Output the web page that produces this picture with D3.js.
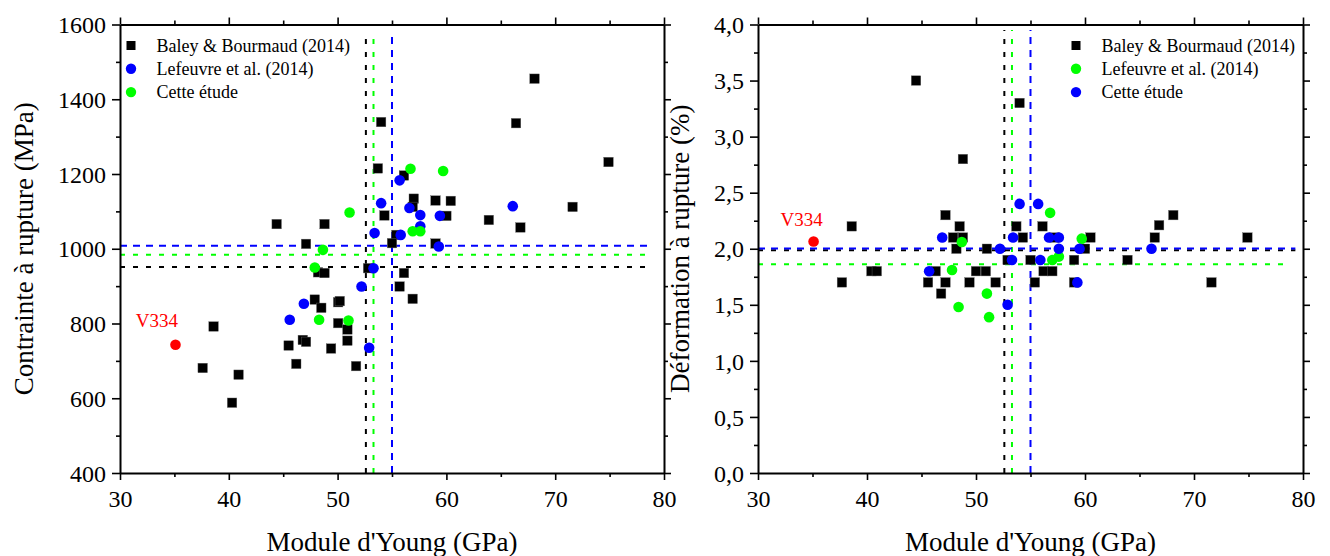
<!DOCTYPE html>
<html><head><meta charset="utf-8">
<script src="https://cdn.jsdelivr.net/npm/d3@7"></script>
<style>
body{margin:0;background:#fff}
text{font-family:"Liberation Serif","Times New Roman",serif;fill:#000}
</style>
</head><body>
<svg id="c" width="1330" height="556"></svg>
<script>
// ---------- data: left panel (Contrainte à rupture, MPa) ----------
const stressBaley = [
  [68.1,1455],[66.4,1336],[74.9,1232],[71.6,1112],[63.9,1077],[66.8,1057],
  [54.0,1339],[53.7,1215],[56.1,1196],[57.0,1134],[56.9,1112],[59.0,1129],[60.4,1128],[60.0,1088],
  [54.3,1089],[55.4,1037],[55.0,1015],[59.0,1014],
  [44.4,1066],[48.8,1066],[47.1,1013],
  [48.2,937],[48.8,935],[52.8,948],[56.1,935],[55.7,899],[56.9,866],
  [47.9,864],[48.5,842],[50.05,857],[50.2,860],[50.05,801],[50.9,784],[50.9,754],
  [46.8,756],[47.1,751],[45.5,741],[49.4,733],[51.7,686],[46.2,692],
  [38.6,792],[37.6,681],[40.9,663],[40.3,588]
];
const stressLefeuvre = [
  [54.0,1122],[55.7,1183],[56.6,1109],[57.6,1090],[57.6,1060],[59.4,1088],[55.8,1037],
  [53.4,1042],[59.3,1006],[66.1,1114],[53.3,948],[52.2,899],[46.9,853],[45.6,810],[52.9,735]
];
const stressEtude = [
  [51.1,1097],[56.7,1214],[59.7,1208],[56.9,1047],[57.6,1047],[48.65,997],[47.9,950],[48.3,810],[51.0,808]
];
const stressV334 = [[35.1,743]];
const stressMeanX = {black:52.6, green:53.3, blue:55.0};
const stressMeanY = {black:951, green:984, blue:1008};

// ---------- data: right panel (Déformation à rupture, %) ----------
const strainBaley = [
  [44.5,3.50],[54.0,3.30],[48.8,2.80],[47.2,2.30],[38.6,2.20],[48.5,2.20],[53.7,2.20],[56.1,2.20],
  [47.9,2.10],[48.8,2.10],[54.3,2.10],[57.2,2.10],[60.5,2.10],[66.4,2.10],[74.9,2.10],[66.8,2.21],[68.1,2.30],
  [51.0,2.00],[48.2,2.00],[60.0,2.00],
  [52.9,1.90],[55.0,1.90],[59.0,1.90],[63.9,1.90],
  [40.4,1.80],[40.9,1.80],[46.3,1.80],[50.0,1.80],[50.9,1.80],[56.2,1.80],[57.0,1.80],
  [37.7,1.70],[45.6,1.70],[47.2,1.70],[49.4,1.70],[51.8,1.70],[55.4,1.70],[59.0,1.70],[71.6,1.70],
  [46.8,1.60]
];
const strainLefeuvre = [ // drawn green in this panel
  [56.8,2.32],[48.7,2.06],[59.7,2.09],[57.0,1.90],[57.6,1.93],[47.8,1.81],[51.0,1.60],[48.4,1.48],[51.2,1.39]
];
const strainEtude = [ // drawn blue in this panel
  [54.0,2.40],[55.7,2.40],[46.9,2.10],[53.4,2.10],[56.7,2.10],[57.6,2.10],[52.2,2.00],[57.6,2.00],
  [59.5,2.00],[66.1,2.00],[53.3,1.90],[55.9,1.90],[45.7,1.80],[59.3,1.70],[52.9,1.50]
];
const strainV334 = [[35.1,2.065]];
const strainMeanX = {black:52.6, green:53.3, blue:55.0};
const strainMeanY = {black:1.987, green:1.862, blue:2.003};

// ---------- axes ----------
const xDomain = [30,80];
const xMajorTicks = [30,40,50,60,70,80];
const xMinorTicks = [35,45,55,65,75];
const stressDomain = [400,1600];
const stressMajorTicks = [400,600,800,1000,1200,1400,1600];
const stressMinorTicks = [500,700,900,1100,1300,1500];
const strainDomain = [0,4];
const strainMajorTicks = [0,0.5,1,1.5,2,2.5,3,3.5,4];
const strainMinorTicks = [0.25,0.75,1.25,1.75,2.25,2.75,3.25,3.75];
const xTitle = "Module d'Young (GPa)";
const stressTitle = "Contrainte à rupture (MPa)";
const strainTitle = "Déformation à rupture (%)";
const legendStress = ["Baley & Bourmaud (2014)","Lefeuvre et al. (2014)","Cette étude"];
const legendStrain = ["Baley & Bourmaud (2014)","Lefeuvre et al. (2014)","Cette étude"];

const COL = {black:"#000000", blue:"#0000ff", green:"#00ff00", red:"#ff0000"};
const FONT = '"Liberation Serif","Times New Roman",serif';
const svg = d3.select("#c");

function panel(o){
  const x = d3.scaleLinear().domain(xDomain).range([o.left,o.right]);
  const y = d3.scaleLinear().domain(o.yDomain).range([o.bottom,o.top]);
  const g = svg.append("g");

  // reference dashed lines
  const dash = {black:"5,8", green:"5,8", blue:"7,6"};
  for (const k of ["black","green","blue"]) {
    g.append("line").attr("x1",x(o.meanX[k])).attr("x2",x(o.meanX[k]))
      .attr("y1",y(o.yDomain[0])).attr("y2",y(o.vTop))
      .attr("stroke",COL[k]).attr("stroke-width",2).attr("stroke-dasharray",dash[k]);
    g.append("line").attr("x1",x(30)).attr("x2",x(o.hEnd[k]))
      .attr("y1",y(o.meanY[k])).attr("y2",y(o.meanY[k]))
      .attr("stroke",COL[k]).attr("stroke-width",2).attr("stroke-dasharray",dash[k]);
  }

  const styleAxis = a => {
    a.attr("font-family",null).attr("font-size",null);
    a.select(".domain").attr("stroke-width",2);
    a.selectAll(".tick line").attr("stroke-width",1.6);
    a.selectAll(".tick text").style("font-family",FONT).style("font-size","24px").attr("fill","#000");
    return a;
  };
  const minor = (gen, tr, ticks, size) => {
    const a = g.append("g").attr("transform",tr).call(gen.tickValues(ticks).tickSize(size).tickSizeOuter(0).tickFormat(""));
    a.select(".domain").remove();
    a.selectAll(".tick line").attr("stroke-width",1.6);
  };
  // bottom
  const bx = styleAxis(g.append("g").attr("transform",`translate(0,${o.bottom})`)
    .call(d3.axisBottom(x).tickValues(xMajorTicks).tickSize(7).tickSizeOuter(0).tickFormat(d=>String(d))));
  bx.selectAll(".tick text").attr("dy",0).attr("y",34);
  minor(d3.axisBottom(x), `translate(0,${o.bottom})`, xMinorTicks, 4);
  // top
  styleAxis(g.append("g").attr("transform",`translate(0,${o.top})`)
    .call(d3.axisTop(x).tickValues(xMajorTicks).tickSize(7).tickSizeOuter(0).tickFormat("")));
  minor(d3.axisTop(x), `translate(0,${o.top})`, xMinorTicks, 4);
  // left
  const ly = styleAxis(g.append("g").attr("transform",`translate(${o.left},0)`)
    .call(d3.axisLeft(y).tickValues(o.yMajor).tickSize(8).tickSizeOuter(0).tickFormat(o.yFmt)));
  ly.selectAll(".tick text").attr("x",-14).attr("dy","0.34em");
  minor(d3.axisLeft(y), `translate(${o.left},0)`, o.yMinor, 4);
  // right
  styleAxis(g.append("g").attr("transform",`translate(${o.right},0)`)
    .call(d3.axisRight(y).tickValues(o.yMajor).tickSize(7).tickSizeOuter(0).tickFormat("")));
  minor(d3.axisRight(y), `translate(${o.right},0)`, o.yMinor, 4);

  // titles
  g.append("text").attr("x",(o.left+o.right)/2).attr("y",551).attr("text-anchor","middle")
    .style("font-size","27px").text(xTitle);
  g.append("text").attr("transform",`translate(${o.yTitleX},${(o.top+o.bottom)/2}) rotate(-90)`)
    .attr("text-anchor","middle").style("font-size","27px").text(o.yTitle);

  // markers
  const sq = 9.5;
  g.append("g").selectAll("rect").data(o.black).join("rect")
    .attr("x",d=>x(d[0])-sq/2).attr("y",d=>y(d[1])-sq/2).attr("width",sq).attr("height",sq)
    .attr("fill","#000").attr("stroke","#666").attr("stroke-width",0.4);
  for (const s of o.circles) {
    g.append("g").selectAll("circle").data(s.data).join("circle")
      .attr("cx",d=>x(d[0])).attr("cy",d=>y(d[1])).attr("r",5.3).attr("fill",COL[s.color]);
  }
  g.append("g").selectAll("circle").data(o.red).join("circle")
    .attr("cx",d=>x(d[0])).attr("cy",d=>y(d[1])).attr("r",5.3).attr("fill",COL.red);
  g.append("text").attr("x",x(o.redLabel[0])).attr("y",y(o.redLabel[1])).attr("text-anchor","middle")
    .style("font-size","19px").style("fill",COL.red).text("V334");

  // legend
  const lg = g.append("g");
  o.legend.forEach((t,i)=>{
    const cy = o.legY + i*23.3;
    if (i===0) lg.append("rect").attr("x",o.legX-4.5).attr("y",cy-4.5).attr("width",9).attr("height",9).attr("fill","#000");
    else lg.append("circle").attr("cx",o.legX).attr("cy",cy).attr("r",5.2).attr("fill",COL[o.legColors[i]]);
    lg.append("text").attr("x",o.legX+25.5).attr("y",cy+6).style("font-size","18px").text(t);
  });
}

panel({
  left:120, right:664, top:24.5, bottom:473,
  yDomain:stressDomain, yMajor:stressMajorTicks, yMinor:stressMinorTicks, yFmt:d=>String(d),
  yTitle:stressTitle, yTitleX:33,
  black:stressBaley,
  circles:[{data:stressLefeuvre,color:"blue"},{data:stressEtude,color:"green"}],
  red:stressV334, redLabel:[33.4,791],
  meanX:stressMeanX, meanY:stressMeanY, vTop:1580, hEnd:{black:78.7,green:78.7,blue:78.7},
  legend:legendStress, legColors:["black","blue","green"], legX:131, legY:45.5
});
panel({
  left:758, right:1303, top:24.5, bottom:473,
  yDomain:strainDomain, yMajor:strainMajorTicks, yMinor:strainMinorTicks, yFmt:d=>d.toFixed(1).replace(".",","),
  yTitle:strainTitle, yTitleX:689,
  black:strainBaley,
  circles:[{data:strainLefeuvre,color:"green"},{data:strainEtude,color:"blue"}],
  red:strainV334, redLabel:[34.0,2.20],
  meanX:strainMeanX, meanY:strainMeanY, vTop:3.95, hEnd:{black:79.3,green:78.5,blue:79.3},
  legend:legendStrain, legColors:["black","green","blue"], legX:1076, legY:45.5
});
</script>
</body></html>
